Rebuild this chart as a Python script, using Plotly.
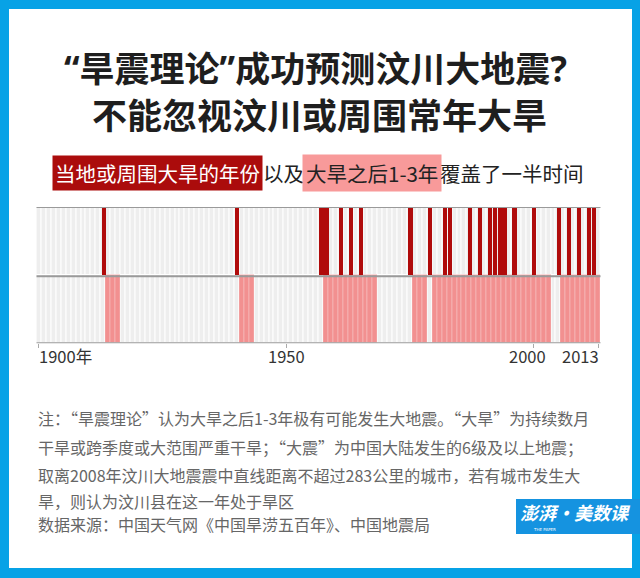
import plotly.graph_objects as go

W, H = 640, 578
FONT = "Noto Sans CJK SC"

# ---------------- data ----------------
years = list(range(1900, 2014))
drought_years = [1913, 1940, 1957, 1958, 1961, 1963, 1965, 1975, 1979, 1982, 1983,
                 1987, 1989, 1991, 1992, 1993, 1994, 1996, 2000, 2005, 2007, 2009,
                 2011, 2012]
covered_years = [1914, 1915, 1916,
                 1941, 1942, 1943,
                 1958, 1959, 1960, 1961, 1962, 1963, 1964, 1965, 1966, 1967, 1968,
                 1976, 1977, 1978,
                 1980, 1981, 1982, 1983, 1984, 1985, 1986, 1987, 1988, 1989, 1990,
                 1991, 1992, 1993, 1994, 1995, 1996, 1997, 1998, 1999, 2000, 2001,
                 2002, 2003,
                 2006, 2007, 2008, 2009, 2010, 2011, 2012, 2013]
tick_years = [1900, 1950, 2000, 2013]
tick_labels = ["1900年", "1950", "2000", "2013"]

title_lines = ["“旱震理论”成功预测汶川大地震?", "不能忽视汶川或周围常年大旱"]
note_lines = [
    "注：“旱震理论”认为大旱之后1-3年极有可能发生大地震。“大旱”为持续数月",
    "干旱或跨季度或大范围严重干旱；“大震”为中国大陆发生的6级及以上地震；",
    "取离2008年汶川大地震震中直线距离不超过283公里的城市，若有城市发生大",
    "旱，则认为汶川县在这一年处于旱区",
    "数据来源：中国天气网《中国旱涝五百年》、中国地震局",
]

RED = "#b00b0b"
PINK = "#f29090"
GRAY = "#eeeeee"
BLUE = "#07a2e6"


def px(x):
    return x / W


def py(y):
    return 1 - y / H


fig = go.Figure()

for base in (0, 1):
    fig.add_trace(go.Bar(
        x=years, y=[1] * len(years), base=[base] * len(years), width=1,
        marker=dict(color=GRAY, line=dict(color="white", width=1)),
        hoverinfo="skip", showlegend=False))

fig.add_trace(go.Bar(
    x=covered_years, y=[1] * len(covered_years), base=[0] * len(covered_years), width=1,
    marker=dict(color=PINK, line=dict(color="rgba(255,255,255,0.25)", width=1)),
    showlegend=False))

fig.add_trace(go.Bar(
    x=drought_years, y=[1] * len(drought_years), base=[1] * len(drought_years), width=0.84,
    marker=dict(color=RED, line=dict(width=0)),
    showlegend=False))

shapes = [
    dict(type="rect", xref="paper", yref="paper", x0=px(9), x1=px(632), y0=py(568), y1=py(9),
         fillcolor="white", line=dict(width=0), layer="below"),
    dict(type="line", xref="x domain", yref="y", x0=0, x1=1, y0=2, y1=2,
         line=dict(color="#9a9a9a", width=2)),
    dict(type="line", xref="x domain", yref="y", x0=0, x1=1, y0=0.985, y1=0.985,
         line=dict(color="#9a9a9a", width=2)),
    dict(type="line", xref="x domain", yref="y", x0=0, x1=1, y0=0, y1=0,
         line=dict(color="#9a9a9a", width=2)),
    dict(type="rect", xref="paper", yref="paper", x0=px(516), x1=px(640), y0=py(534), y1=py(499),
         fillcolor="#1593e0", line=dict(width=0)),
]

ann = []
ann.append(dict(x=px(315), y=py(69), text="<b>" + title_lines[0] + "</b>",
                font=dict(family="Noto Sans, " + FONT, size=35, color="#1e1e1e")))
ann.append(dict(x=px(319), y=py(113), text="<b>" + title_lines[1] + "</b>",
                font=dict(family=FONT, size=35, color="#1e1e1e")))
ann.append(dict(x=px(263), y=py(173), xanchor="right", text="当地或周围大旱的年份",
                bgcolor="#ab0c0c", borderpad=2, font=dict(family=FONT, size=20.5, color="white")))
ann.append(dict(x=px(283), y=py(173), xanchor="center", text="以及",
                font=dict(family=FONT, size=20.5, color="#222")))
ann.append(dict(x=px(302), y=py(173), xanchor="left", text="大旱之后1-3年",
                bgcolor="#f89a9a", borderpad=3, font=dict(family=FONT, size=20.5, color="#222")))
ann.append(dict(x=px(438), y=py(173), xanchor="left", text="覆盖了一半时间",
                font=dict(family=FONT, size=20.5, color="#222")))
anchors = ["left", "center", "center", "right"]
shifts = [-2, 0, -6, 3]
for yr, lab, a, s in zip(tick_years, tick_labels, anchors, shifts):
    ann.append(dict(x=yr, xref="x", y=py(356), xanchor=a, xshift=s, text=lab,
                    font=dict(family=FONT, size=16.5, color="#333")))
note_y = [418, 447, 475, 501, 524]
for line, yy in zip(note_lines, note_y):
    ann.append(dict(x=px(36), y=py(yy), xanchor="left", text=line,
                    font=dict(family=FONT, size=16, color="#666")))
ann.append(dict(x=px(575), y=py(512), text="<b><i>澎湃·美数课</i></b>",
                font=dict(family=FONT, size=18, color="white")))
ann.append(dict(x=px(544), y=py(529.5), text="THE PAPER",
                font=dict(family="DejaVu Sans", size=4, color="white")))

for a in ann:
    a.setdefault("xref", "paper")
    a.setdefault("yref", "paper")
    a.setdefault("yanchor", "middle")
    a.setdefault("xanchor", "center")
    a["showarrow"] = False

fig.update_layout(
    width=W, height=H, margin=dict(l=0, r=0, t=0, b=0),
    paper_bgcolor=BLUE, plot_bgcolor="rgba(0,0,0,0)",
    barmode="overlay", bargap=0, showlegend=False,
    shapes=shapes, annotations=ann,
    xaxis=dict(domain=[px(36.5), px(600.5)], range=[1899.5, 2013.5],
               tickvals=tick_years, ticks="outside", ticklen=4, tickwidth=1,
               tickcolor="#aaa", showticklabels=False, showgrid=False,
               zeroline=False, showline=False, fixedrange=True),
    yaxis=dict(domain=[py(343.3), py(207)], range=[0, 2], visible=False,
               showgrid=False, zeroline=False, fixedrange=True),
)

fig.write_html("out.html")
